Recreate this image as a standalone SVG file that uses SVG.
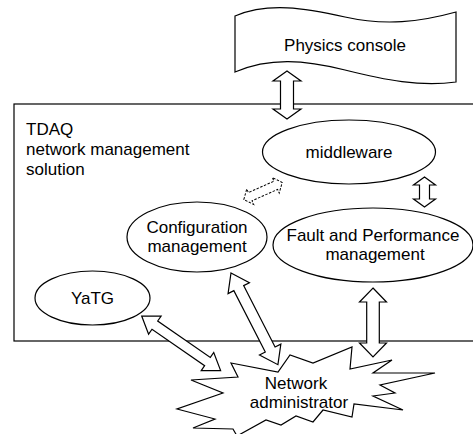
<svg xmlns="http://www.w3.org/2000/svg" width="473" height="434" viewBox="0 0 473 434">
<style>
.s{fill:#fff;stroke:#000;stroke-width:1.2;stroke-linejoin:miter}
.d{fill:#fff;stroke:#000;stroke-width:1;stroke-dasharray:2.5,1.5}
.t{font-family:"Liberation Sans",Arial,Helvetica,sans-serif;font-size:17px;fill:#000}
.c{text-anchor:middle}
</style>
<rect width="473" height="434" fill="#fff"/>
<g id="tdaq-frame">
<rect x="14" y="104" width="470" height="237" fill="#fff" stroke="#000" stroke-width="1.2"/>
<text class="t" x="26" y="135">TDAQ</text>
<text class="t" x="26" y="155">network management</text>
<text class="t" x="26" y="175">solution</text>
</g>
<g id="physics-console">
<path class="s" d="M235,16 C268,2 305,8 345,17 C385,26 420,22 456,12 L456,82 C420,87 385,80 345,70 C305,60 270,57 235,72 Z"/>
<text class="t c" x="345" y="51">Physics console</text>
</g>
<g id="middleware">
<ellipse class="s" cx="349" cy="152" rx="86.5" ry="32"/>
<text class="t c" x="349" y="158">middleware</text>
</g>
<g id="config">
<ellipse class="s" cx="197" cy="237" rx="70" ry="35"/>
<text class="t c" x="197" y="233">Configuration</text>
<text class="t c" x="197" y="252">management</text>
</g>
<g id="fault">
<ellipse class="s" cx="373" cy="245" rx="100" ry="37"/>
<text class="t c" x="373" y="241">Fault and Performance</text>
<text class="t c" x="375" y="260">management</text>
</g>
<g id="yatg">
<ellipse class="s" cx="92.5" cy="298" rx="57.5" ry="27"/>
<text class="t c" x="92.5" y="304">YaTG</text>
</g>
<g id="network-admin">
<polygon class="s" points="231,363 278,372 290,355 313,363 352,347 350,369 392,360 373,373 435,373 380,385 395,393 373,396 403,410 354,404 352,417 323,410 313,422 296,416 281,425 266,420 237,436 233,429 193,428 215,419 177,409 223,393 191,380 238,377"/>
<text class="t c" x="296" y="389">Network</text>
<text class="t c" x="299" y="408">administrator</text>
</g>
<g id="connectors">
<polygon class="s" points="287,71 301,81 293.5,81 293.5,109 301,109 287,119 273,109 280.5,109 280.5,81 273,81"/>
<polygon class="s" points="424.5,177 435.5,185 429.5,185 429.5,199 435.5,199 424.5,207 413.5,199 419.5,199 419.5,185 413.5,185"/>
<polygon class="s" points="373,288 386.5,302 379.3,302 379.3,343 386.5,343 373,357 359.5,343 366.7,343 366.7,302 359.5,302"/>
<polygon class="d" transform="translate(263,191) rotate(-24)" points="-21,0 -14,-8.5 -14,-4.5 14,-4.5 14,-8.5 21,0 14,8.5 14,4.5 -14,4.5 -14,8.5"/>
<polygon class="s" transform="translate(141.7,316) rotate(34.7)" points="0,0 16,-11 16,-5 80,-5 80,-11 96,0 80,11 80,5 16,5 16,11"/>
<polygon class="s" transform="translate(231,273) rotate(62.9)" points="0,0 17,-12 17,-5.5 86,-5.5 86,-12 103,0 86,12 86,5.5 17,5.5 17,12"/>
</g>
</svg>
